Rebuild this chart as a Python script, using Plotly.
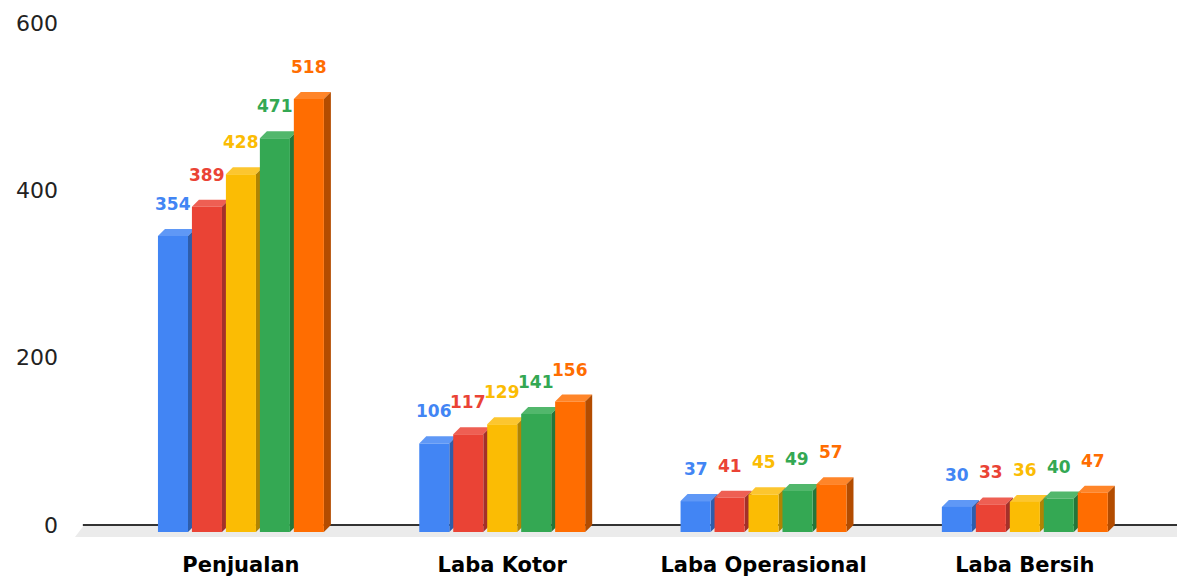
import plotly.graph_objects as go

categories = ["Penjualan", "Laba Kotor", "Laba Operasional", "Laba Bersih"]
series_names = ["Seri 1", "Seri 2", "Seri 3", "Seri 4", "Seri 5"]
values = [
    [354, 106, 37, 30],
    [389, 117, 41, 33],
    [428, 129, 45, 36],
    [471, 141, 49, 40],
    [518, 156, 57, 47],
]
y_ticks = [0, 200, 400, 600]

front_colors = ["#4285F4", "#EA4335", "#FBBC04", "#34A853", "#FF6D01"]
top_colors = ["#5F98F6", "#EE5F53", "#FCC62F", "#52B76C", "#FF8529"]
side_colors = ["#2E5DAB", "#A3302A", "#B08402", "#24763A", "#B34C00"]

# fake 3d look: depth offset of the back plane, in axis units
PITCH = 0.130
WIDTH = 0.115
DX = 0.0268
DY = 8.4

fig = go.Figure()
shapes = []

# floor and axis line (back plane)
shapes.append(dict(type="path", layer="below", line_width=0, fillcolor="#EBEBEB",
                   path=f"M -0.635,-6 L -0.60,{DY} L 3.62,{DY} L 3.62,-6 Z"))
shapes.append(dict(type="line", layer="below", x0=-0.605, x1=3.62, y0=DY, y1=DY,
                   line=dict(color="#333333", width=2)))

annotations = []
for j, name in enumerate(series_names):
    xs = [i + (j - 2) * PITCH for i in range(len(categories))]
    fig.add_trace(go.Bar(x=xs, y=values[j], name=name, width=WIDTH,
                         marker=dict(color=front_colors[j], line_width=0),
                         showlegend=False))
    for x, v in zip(xs, values[j]):
        x0, x1 = x - WIDTH / 2, x + WIDTH / 2
        shapes.append(dict(type="path", layer="below", line_width=0, fillcolor=top_colors[j],
                           path=f"M {x0},{v} L {x1},{v} L {x1 + DX},{v + DY} L {x0 + DX},{v + DY} Z"))
        shapes.append(dict(type="path", layer="below", line_width=0, fillcolor=side_colors[j],
                           path=f"M {x1},0 L {x1},{v} L {x1 + DX},{v + DY} L {x1 + DX},{DY} Z"))
        annotations.append(dict(x=x, y=v, text=str(v), showarrow=False, yshift=32,
                                yanchor="middle",
                                font=dict(family="DejaVu Sans", size=17, color=front_colors[j],
                                          weight="bold")))

# page body has an 8px margin, so the figure is a bit smaller than the window
fig.update_layout(
    width=1177, height=569,
    margin=dict(l=67, r=0, t=0, b=37, autoexpand=False),
    plot_bgcolor="white", paper_bgcolor="white",
    barmode="overlay",
    shapes=shapes,
    annotations=annotations,
    xaxis=dict(range=[-0.635, 3.613], tickvals=list(range(len(categories))), ticktext=categories,
               showgrid=False, zeroline=False, showline=False, ticks="",
               automargin=False, ticklabelstandoff=10,
               tickfont=dict(family="DejaVu Sans", size=21, color="#000000", weight="bold")),
    yaxis=dict(range=[-9.57, 626.8], tickvals=[t + DY for t in y_ticks],
               ticktext=[str(t) for t in y_ticks],
               showgrid=False, zeroline=False, showline=False, ticks="",
               automargin=False, ticklabelstandoff=16,
               tickfont=dict(family="DejaVu Sans", size=22, color="#222222")),
)

fig.write_html("out.html")
